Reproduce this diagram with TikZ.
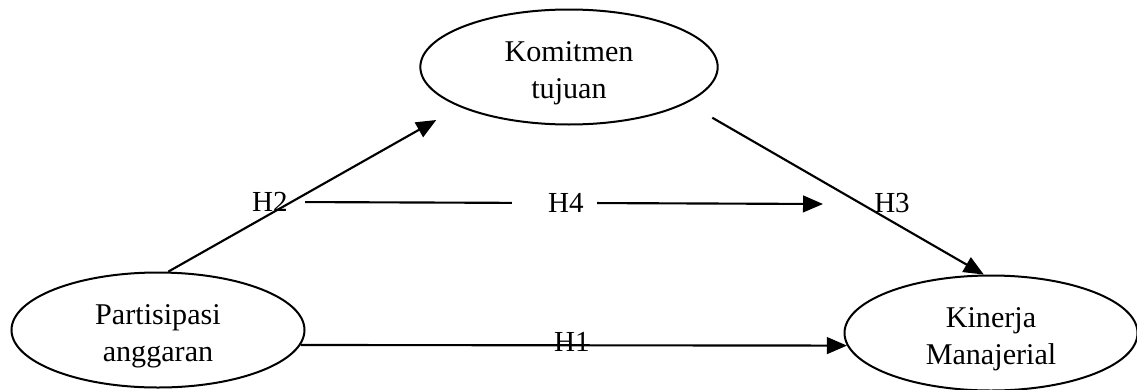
\documentclass[tikz,border=0pt]{standalone}
\usepackage{fontspec}
\setmainfont{Liberation Serif}
\usetikzlibrary{shapes.geometric,arrows.meta}
\newcommand{\lowstrut}{\rule{0pt}{25pt}}
\begin{document}
\begin{tikzpicture}[x=0.75pt,y=-0.75pt,
  ell/.style={draw,ellipse,line width=1.5pt,minimum width=219.75pt,minimum height=86.25pt,inner sep=0pt,align=center,font=\fontsize{22.6pt}{27.75pt}\selectfont},
  lbl/.style={inner sep=0pt,font=\fontsize{21.8pt}{25pt}\selectfont},
  conn/.style={line width=1.6pt},
  arr/.style={line width=1.6pt,-{Triangle[length=15pt,width=12.5pt]}}]
\useasboundingbox (0,0) rectangle (1137,389);
\node[ell] (p) at (158,330) {\lowstrut Partisipasi\\anggaran};
\node[ell,minimum width=223pt] (c) at (569,67) {\lowstrut Komitmen\\tujuan};
\node[ell] (k) at (991,333) {\lowstrut Kinerja\\Manajerial};
% H1
\draw[arr] (p.-6) -- (k.185);
\node[lbl] (h1) at (572,342) {H1};
% H2
\draw[arr,shorten >=20pt] (p.80) -- (c.200);
\node[lbl] (h2) at (270,202) {H2};
% H3
\draw[arr,shorten <=22pt] (c.-17) -- (k.97);
\node[lbl] (h3) at (892,203) {H3};
% H4
\node[lbl] (h4) at (566,203) {H4};
\coordinate (h4end) at (823,204);
\draw[conn,shorten <=12.75pt,shorten >=27pt] (h2.east) -- (h4.west);
\draw[arr,shorten <=9.75pt] (h4.east) -- (h4end);
\end{tikzpicture}
\end{document}
